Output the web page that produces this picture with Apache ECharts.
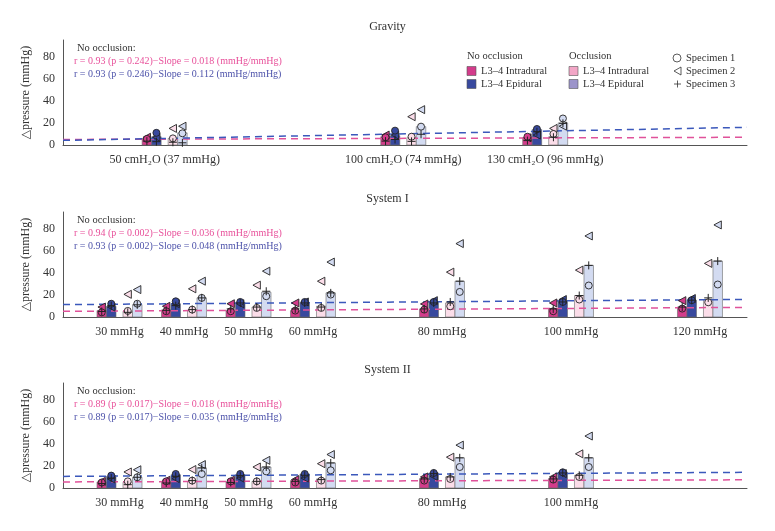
<!DOCTYPE html>
<html><head><meta charset="utf-8">
<script src="https://cdn.jsdelivr.net/npm/echarts@6/dist/echarts.min.js"></script>
<style>html,body{margin:0;padding:0;background:#fff}#c{width:775px;height:531px}</style>
</head><body><div id="c"></div>
<script>
// ---------- DATA ----------
// specimen arrays: per pressure [Specimen 1 (circle), Specimen 2 (triangle), Specimen 3 (plus)]
const gravityX = [37, 74, 96];
const gravityLabels = ['50 cmH₂O (37 mmHg)', '100 cmH₂O (74 mmHg)', '130 cmH₂O (96 mmHg)'];
const gravityNoOccIntraBar = [6, 7.5, 6.6];
const gravityNoOccEpiBar = [7.5, 8.5, 14];
const gravityOccIntraBar = [6, 6.6, 7.5];
const gravityOccEpiBar = [11, 16.6, 20];
const gravityNoOccIntraSpec = [[5.5, 7, 3.5], [7, 9, 3.5], [7.5, 6.5, 4]];
const gravityNoOccEpiSpec = [[11, 7, 3], [13, 9, 5], [14.5, 9, 12]];
const gravityOccIntraSpec = [[6, 15, 2.5], [7.5, 25.6, 3.3], [10, 15, 7]];
const gravityOccEpiSpec = [[10.6, 17, 2], [16.6, 32, 9.7], [24, 17, 19.6]];
const gravityTrendIntra = [[21.24, 5.0], [127.29, 7.0]];
const gravityTrendEpi = [[21.24, 4.2], [127.29, 16.0]];
const gravityNotes = ['r = 0.93 (p = 0.242)−Slope = 0.018 (mmHg/mmHg)', 'r = 0.93 (p = 0.246)−Slope = 0.112 (mmHg/mmHg)'];

const sys1X = [30, 40, 50, 60, 80, 100, 120];
const sys1Labels = ['30 mmHg', '40 mmHg', '50 mmHg', '60 mmHg', '80 mmHg', '100 mmHg', '120 mmHg'];
const sys1NoOccIntraBar = [5.8, 6.4, 5.8, 5.8, 7.3, 7.6, 9.1];
const sys1NoOccEpiBar = [9.7, 12, 13.3, 13.3, 13.6, 14.2, 15.2];
const sys1OccIntraBar = [5.2, 6, 9, 9.7, 12.7, 19.4, 15.8];
const sys1OccEpiBar = [11.2, 17.3, 22.4, 21.8, 32.4, 46.7, 50.6];
const sys1NoOccIntraSpec = [[4.2, 9, 5], [5.2, 9.7, 6], [5.2, 12, 7.3], [5.8, 12.7, 7.3], [6.7, 11.8, 7.3], [5.2, 12.7, 7.3], [7.6, 14.8, 9]];
const sys1NoOccEpiSpec = [[12, 9, 10.3], [14.2, 12, 10.3], [13.6, 12, 12.7], [13.6, 13.6, 12.7], [13.6, 14.8, 12.7], [13.6, 15.8, 13.6], [15.2, 16.7, 15.2]];
const sys1OccIntraSpec = [[5.5, 20.5, 4.2], [6.7, 25.5, 6.7], [8.2, 28.8, 9], [8.2, 32.4, 9], [9.7, 40.6, 13.6], [15.8, 42.4, 19.4], [13.3, 48.5, 17.3]];
const sys1OccEpiSpec = [[12, 24.8, 11], [17.3, 32.4, 17.3], [18.8, 41.5, 23.3], [20.3, 49.7, 21.8], [22.7, 66.4, 32.4], [28.5, 73.3, 46.7], [29.4, 83.3, 50.6]];
const sys1TrendIntra = [[21.24, 5.1], [127.29, 8.7]];
const sys1TrendEpi = [[21.24, 11.2], [127.29, 15.9]];
const sys1Notes = ['r = 0.94 (p = 0.002)−Slope = 0.036 (mmHg/mmHg)', 'r = 0.93 (p = 0.002)−Slope = 0.048 (mmHg/mmHg)'];

const sys2X = [30, 40, 50, 60, 80, 100];
const sys2Labels = ['30 mmHg', '40 mmHg', '50 mmHg', '60 mmHg', '80 mmHg', '100 mmHg'];
const sys2NoOccIntraBar = [5.5, 5.5, 5.5, 6.7, 8.5, 8.5];
const sys2NoOccEpiBar = [10.6, 12, 12, 12.7, 13.6, 14.5];
const sys2OccIntraBar = [5.2, 6, 6, 8.2, 10, 11.5];
const sys2OccEpiBar = [9.7, 18.2, 19, 22.7, 27.3, 27.3];
const sys2NoOccIntraSpec = [[5, 6, 4], [6, 7, 4.5], [6, 7, 5], [5, 7.6, 6], [6.7, 10, 8.2], [7.6, 10, 8.2]];
const sys2NoOccEpiSpec = [[11.2, 8.2, 9], [12.7, 8.5, 10.6], [12.7, 9, 11.2], [12.7, 9, 11.5], [13.6, 10.6, 13], [14.2, 13, 13.6]];
const sys2OccIntraSpec = [[6, 14.5, 3], [6.7, 16.7, 6.7], [6, 19, 6], [6.7, 22, 7.6], [8.2, 27.9, 10], [10, 30.9, 11.5]];
const sys2OccEpiSpec = [[9.7, 16.5, 9.7], [12.7, 21.2, 18.2], [15, 25, 19], [16, 30.3, 22.7], [19, 38.8, 27.3], [19, 47, 27.3]];
const sys2TrendIntra = [[21.24, 5.5], [127.29, 7.4]];
const sys2TrendEpi = [[21.24, 10.5], [127.29, 14.2]];
const sys2Notes = ['r = 0.89 (p = 0.017)−Slope = 0.018 (mmHg/mmHg)', 'r = 0.89 (p = 0.017)−Slope = 0.035 (mmHg/mmHg)'];

const panelTitles = ['Gravity', 'System I', 'System II'];
const yTicks = [0, 20, 40, 60, 80];

// ---------- STYLE ----------
const FONT = "'Liberation Serif','DejaVu Serif',serif";
const C = {
  ni: '#d33c8b', ne: '#38499e', oi: '#fbdde9', oe: '#d3dbf1',
  oiLeg: '#f2a6c6', oeLeg: '#9c94ca',
  lineI: '#e0529a', lineE: '#3b58bb', txtI: '#e8509a', txtE: '#4d52aa'
};
const OFFS = { ni: [-22.5, -13], ne: [-13, -3.5], oi: [3.5, 13], oe: [13, 22.5] };
const grids = [
  { left: 63, top: 40, width: 684, height: 105 },
  { left: 63, top: 212, width: 684, height: 105 },
  { left: 63, top: 383, width: 684, height: 105 }
];
const XMIN = 21.24, XMAX = 127.29;

function barRender(key, fill) {
  return function (params, api) {
    const x = api.value(0), y = api.value(1);
    const p0 = api.coord([x, 0]), p1 = api.coord([x, y]);
    const o = OFFS[key];
    return { type: 'rect', shape: { x: p0[0] + o[0], y: p1[1], width: o[1] - o[0], height: p0[1] - p1[1] },
      style: { fill: fill, stroke: '#6a6a6a', lineWidth: 0.6 } };
  };
}
function markRender(key, fill) {
  return function (params, api) {
    const x = api.value(0);
    const o = OFFS[key];
    const cx = api.coord([x, 0])[0] + (o[0] + o[1]) / 2;
    const yc = api.coord([x, api.value(1)])[1];
    const yt = api.coord([x, api.value(2)])[1];
    const yp = api.coord([x, api.value(3)])[1];
    const st = { fill: fill, stroke: '#222', lineWidth: 0.9 };
    return { type: 'group', children: [
      { type: 'polygon', shape: { points: [[cx - 3.8, yt], [cx + 3.6, yt - 4], [cx + 3.6, yt + 4]] }, style: st },
      { type: 'circle', shape: { cx: cx, cy: yc, r: 3.5 }, style: st },
      { type: 'line', shape: { x1: cx - 4, y1: yp, x2: cx + 4, y2: yp }, style: { stroke: '#222', lineWidth: 1 } },
      { type: 'line', shape: { x1: cx, y1: yp - 4, x2: cx, y2: yp + 4 }, style: { stroke: '#222', lineWidth: 1 } }
    ] };
  };
}

const panels = [
  { xs: gravityX, labels: gravityLabels, bars: [gravityNoOccIntraBar, gravityNoOccEpiBar, gravityOccIntraBar, gravityOccEpiBar],
    specs: [gravityNoOccIntraSpec, gravityNoOccEpiSpec, gravityOccIntraSpec, gravityOccEpiSpec], trendI: gravityTrendIntra, trendE: gravityTrendEpi, notes: gravityNotes },
  { xs: sys1X, labels: sys1Labels, bars: [sys1NoOccIntraBar, sys1NoOccEpiBar, sys1OccIntraBar, sys1OccEpiBar],
    specs: [sys1NoOccIntraSpec, sys1NoOccEpiSpec, sys1OccIntraSpec, sys1OccEpiSpec], trendI: sys1TrendIntra, trendE: sys1TrendEpi, notes: sys1Notes },
  { xs: sys2X, labels: sys2Labels, bars: [sys2NoOccIntraBar, sys2NoOccEpiBar, sys2OccIntraBar, sys2OccEpiBar],
    specs: [sys2NoOccIntraSpec, sys2NoOccEpiSpec, sys2OccIntraSpec, sys2OccEpiSpec], trendI: sys2TrendIntra, trendE: sys2TrendEpi, notes: sys2Notes }
];
const keys = ['ni', 'ne', 'oi', 'oe'];
const fills = [C.ni, C.ne, C.oi, C.oe];

const xAxis = [], yAxis = [], series = [], graphic = [];
panels.forEach(function (p, gi) {
  xAxis.push({ type: 'value', gridIndex: gi, min: XMIN, max: XMAX,
    axisLine: { show: true, lineStyle: { color: '#555', width: 1 } }, axisTick: { show: false }, splitLine: { show: false },
    axisLabel: { customValues: p.xs, margin: 9, fontFamily: FONT, fontSize: 12, color: '#333',
      formatter: function (v) { const i = p.xs.indexOf(v); return i >= 0 ? p.labels[i] : ''; } } });
  yAxis.push({ type: 'value', gridIndex: gi, min: 0, max: 95, interval: 20,
    name: '△pressure (mmHg)', nameLocation: 'middle', nameGap: 30,
    nameTextStyle: { fontFamily: FONT, fontSize: 12, color: '#333' },
    axisLine: { show: true, lineStyle: { color: '#555', width: 1 } }, axisTick: { show: false }, splitLine: { show: false },
    axisLabel: { customValues: yTicks, margin: 8, fontFamily: FONT, fontSize: 12, color: '#333' } });
  keys.forEach(function (k, j) {
    series.push({ type: 'custom', xAxisIndex: gi, yAxisIndex: gi, z: 2, renderItem: barRender(k, fills[j]),
      data: p.xs.map(function (x, i) { return [x, p.bars[j][i]]; }) });
  });
  series.push({ type: 'line', xAxisIndex: gi, yAxisIndex: gi, z: 3, symbol: 'none', silent: true, data: p.trendI,
    lineStyle: { color: C.lineI, width: 1.5, type: [7, 5] } });
  series.push({ type: 'line', xAxisIndex: gi, yAxisIndex: gi, z: 3, symbol: 'none', silent: true, data: p.trendE,
    lineStyle: { color: C.lineE, width: 1.5, type: [7, 5] } });
  keys.forEach(function (k, j) {
    series.push({ type: 'custom', xAxisIndex: gi, yAxisIndex: gi, z: 4, renderItem: markRender(k, fills[j]),
      data: p.xs.map(function (x, i) { return [x, p.specs[j][i][0], p.specs[j][i][1], p.specs[j][i][2]]; }) });
  });
  const g = grids[gi];
  graphic.push({ type: 'text', left: 'center', top: g.top - 19, style: { text: panelTitles[gi], font: '12px ' + FONT, fill: '#333' } });
  graphic.push({ type: 'text', x: 77, y: g.top + 8, style: { text: 'No occlusion:', font: '10.5px ' + FONT, fill: '#333', verticalAlign: 'middle' } });
  graphic.push({ type: 'text', x: 74, y: g.top + 21, style: { text: p.notes[0], font: '10px ' + FONT, fill: C.txtI, verticalAlign: 'middle' } });
  graphic.push({ type: 'text', x: 74, y: g.top + 34, style: { text: p.notes[1], font: '10px ' + FONT, fill: C.txtE, verticalAlign: 'middle' } });
});

// legend (Gravity panel)
const LF = '10.5px ' + FONT;
function legText(x, y, t) { return { type: 'text', x: x, y: y, style: { text: t, font: LF, fill: '#333', verticalAlign: 'middle' } }; }
function legBox(x, y, c) { return { type: 'rect', shape: { x: x, y: y - 4.5, width: 9, height: 9 }, style: { fill: c, stroke: '#555', lineWidth: 0.6 } }; }
graphic.push(legText(467, 56, 'No occlusion'), legBox(467, 71, C.ni), legText(481, 71, 'L3–4 Intradural'),
  legBox(467, 84, C.ne), legText(481, 84, 'L3–4 Epidural'),
  legText(569, 56, 'Occlusion'), legBox(569, 71, C.oiLeg), legText(583, 71, 'L3–4 Intradural'),
  legBox(569, 84, C.oeLeg), legText(583, 84, 'L3–4 Epidural'),
  { type: 'circle', shape: { cx: 677, cy: 58, r: 4 }, style: { fill: 'none', stroke: '#333', lineWidth: 0.8 } },
  legText(686, 58, 'Specimen 1'),
  { type: 'polygon', shape: { points: [[674, 71], [681, 67], [681, 75]] }, style: { fill: 'none', stroke: '#333', lineWidth: 0.8 } },
  legText(686, 71, 'Specimen 2'),
  { type: 'line', shape: { x1: 674, y1: 84, x2: 681, y2: 84 }, style: { stroke: '#333', lineWidth: 0.8 } },
  { type: 'line', shape: { x1: 677.5, y1: 80.5, x2: 677.5, y2: 87.5 }, style: { stroke: '#333', lineWidth: 0.8 } },
  legText(686, 84, 'Specimen 3'));

const chart = echarts.init(document.getElementById('c'), null, { renderer: 'canvas' });
chart.setOption({ backgroundColor: '#fff', animation: false, grid: grids, xAxis: xAxis, yAxis: yAxis, series: series, graphic: graphic });
</script></body></html>
